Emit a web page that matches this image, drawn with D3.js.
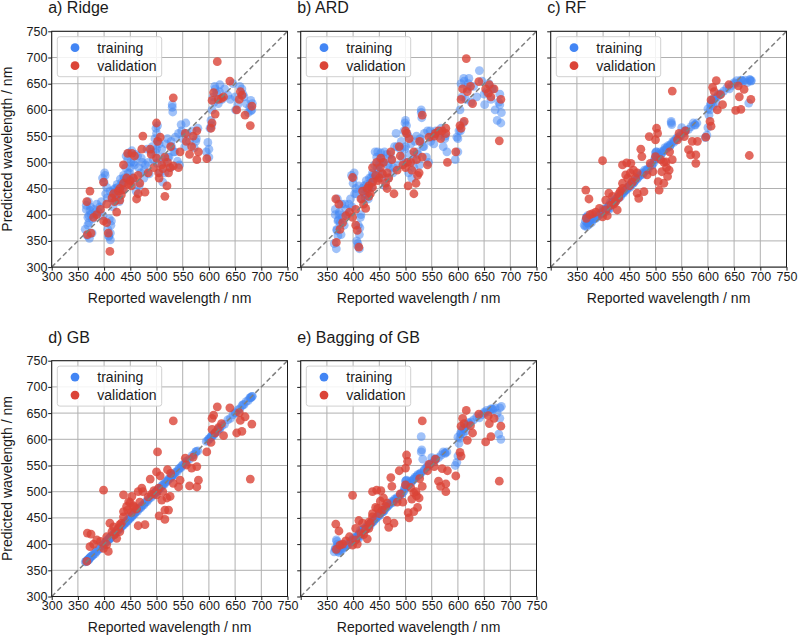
<!DOCTYPE html>
<html>
<head>
<meta charset="utf-8">
<script src="https://cdn.jsdelivr.net/npm/d3@7"></script>
<style>
  body { margin: 0; background: #fff; }
  svg text { font-family: "Liberation Sans", Arial, sans-serif; fill: #1a1a1a; }
</style>
</head>
<body>
<div id="chart"></div>
<script>
const axisTicks = [300, 350, 400, 450, 500, 550, 600, 650, 700, 750]

// reported wavelength of the training set (nm)
const trainReported = [
  364, 366, 368, 369, 370, 371, 372, 373, 375, 378,
  380, 383, 386, 389, 392, 395, 398, 400, 401, 403,
  405, 407, 409, 410, 411, 412, 413, 415, 417, 419,
  421, 423, 425, 427, 429, 431, 433, 435, 437, 439,
  441, 443, 445, 447, 449, 451, 453, 455, 458, 461,
  464, 467, 470, 473, 476, 479, 482, 486, 490, 494,
  497, 499, 500, 501, 503, 506, 509, 512, 515, 518,
  521, 524, 527, 529, 530, 531, 533, 536, 540, 544,
  547, 550, 554, 558, 563, 568, 572, 576, 579, 595,
  598, 600, 602, 604, 606, 608, 610, 612, 615, 618,
  621, 625, 630, 636, 641, 646, 651, 655, 659, 663,
  667, 671, 675, 678, 680, 682, 683,
  366, 369, 371, 374, 377, 384, 397, 402, 406, 409,
  412, 414, 418, 422, 426, 430, 434, 438, 442, 446,
  450, 454, 457, 460, 466, 471, 477, 484, 492, 498,
  500, 502, 505, 510, 516, 522, 528, 530, 535, 542,
  548, 556, 575, 600, 605, 611, 620, 650, 665, 680
]

const trainRidge = [
  372, 418, 360, 395, 425, 385, 355, 408, 400, 392,
  410, 398, 420, 405, 415, 425, 398, 462, 480, 440,
  452, 372, 358, 392, 445, 365, 380, 430, 415, 442,
  450, 428, 458, 440, 425, 468, 455, 448, 475, 462,
  490, 470, 505, 518, 480, 500, 522, 470, 495, 445,
  512, 455, 480, 500, 470, 495, 525, 478, 520, 505,
  545, 565, 525, 498, 540, 480, 510, 462, 500, 535,
  545, 510, 490, 530, 605, 596, 520, 548, 502, 495,
  572, 545, 530, 555, 540, 560, 528, 545, 565, 520,
  538, 510, 565, 580, 600, 625, 615, 640, 632, 612,
  648, 620, 640, 628, 620, 650, 600, 610, 645, 640,
  625, 612, 595, 605, 618, 600, 612,
  410, 380, 398, 415, 365, 405, 470, 475, 432, 360,
  352, 388, 448, 438, 452, 445, 462, 470, 512, 480,
  490, 465, 500, 515, 490, 508, 485, 500, 530, 520,
  555, 570, 535, 525, 480, 510, 540, 610, 520, 555,
  560, 575, 540, 525, 570, 645, 635, 625, 630, 598
]

const trainARD = [
  345, 410, 335, 372, 430, 360, 390, 400, 385, 420,
  395, 380, 410, 400, 420, 430, 415, 460, 470, 440,
  450, 350, 340, 380, 455, 362, 375, 400, 430, 445,
  455, 432, 465, 445, 430, 470, 460, 452, 480, 468,
  495, 475, 510, 520, 485, 505, 518, 480, 500, 455,
  515, 470, 490, 505, 480, 530, 555, 495, 525, 510,
  560, 575, 530, 500, 555, 480, 515, 470, 505, 540,
  550, 515, 495, 540, 600, 585, 530, 555, 510, 500,
  560, 548, 535, 560, 550, 565, 530, 550, 520, 505,
  548, 520, 560, 600, 650, 625, 575, 655, 620, 640,
  660, 615, 645, 625, 675, 655, 610, 635, 650, 620,
  640, 600, 580, 615, 630, 575, 595,
  400, 370, 388, 405, 362, 420, 475, 480, 440, 345,
  335, 395, 450, 440, 458, 450, 470, 475, 520, 490,
  495, 470, 508, 520, 495, 515, 490, 530, 540, 525,
  580, 570, 550, 535, 490, 520, 545, 595, 530, 560,
  540, 555, 545, 545, 560, 660, 650, 630, 640, 610
]

const trainRF = [
  380, 388, 395, 378, 398, 384, 392, 381, 386, 385,
  390, 392, 393, 396, 398, 402, 405, 410, 404, 408,
  406, 410, 412, 416, 409, 418, 413, 418, 421, 423,
  425, 424, 430, 429, 433, 436, 434, 440, 442, 441,
  446, 447, 450, 452, 455, 452, 458, 463, 460, 466,
  468, 472, 474, 480, 477, 485, 484, 486, 493, 495,
  500, 505, 512, 520, 509, 514, 520, 517, 522, 528,
  526, 532, 530, 534, 578, 572, 540, 541, 546, 548,
  552, 566, 556, 560, 563, 568, 575, 571, 575, 547,
  552, 566, 590, 600, 612, 619, 608, 622, 614, 625,
  628, 631, 636, 642, 640, 647, 650, 656, 652, 657,
  655, 657, 652, 613, 658, 655, 656,
  378, 395, 385, 390, 392, 398, 403, 408, 412, 414,
  418, 424, 426, 428, 432, 436, 438, 442, 446, 449,
  454, 458, 460, 463, 470, 476, 480, 487, 494, 505,
  518, 520, 510, 514, 522, 528, 532, 575, 538, 546,
  550, 560, 572, 602, 610, 620, 630, 652, 656, 657
]

const trainGB = [
  366, 367, 369, 370, 371, 370, 373, 374, 376, 378,
  381, 382, 386, 390, 391, 396, 397, 401, 400, 404,
  405, 408, 408, 411, 410, 413, 412, 416, 416, 420,
  420, 424, 424, 428, 428, 432, 432, 436, 436, 440,
  440, 444, 444, 448, 448, 452, 452, 456, 457, 462,
  463, 468, 469, 474, 475, 480, 481, 487, 489, 495,
  496, 500, 499, 502, 502, 507, 508, 513, 514, 519,
  520, 525, 526, 530, 529, 532, 532, 537, 539, 545,
  546, 551, 553, 559, 562, 569, 571, 577, 578, 596,
  597, 601, 601, 605, 605, 609, 609, 613, 614, 619,
  620, 626, 629, 637, 640, 647, 650, 656, 658, 664,
  666, 672, 674, 679, 679, 682, 682,
  367, 370, 372, 375, 378, 385, 398, 403, 407, 410,
  413, 415, 419, 423, 427, 431, 435, 439, 443, 447,
  451, 455, 458, 461, 467, 472, 478, 485, 493, 499,
  501, 503, 506, 511, 517, 523, 529, 531, 536, 543,
  549, 557, 576, 601, 606, 612, 621, 651, 666, 680
]

const trainBagging = [
  385, 392, 408, 390, 400, 386, 396, 384, 388, 388,
  392, 394, 396, 398, 400, 404, 407, 412, 406, 410,
  408, 412, 414, 417, 411, 420, 415, 420, 423, 425,
  427, 426, 431, 431, 435, 437, 436, 442, 443, 443,
  448, 448, 452, 454, 456, 455, 460, 464, 462, 468,
  470, 474, 476, 481, 479, 486, 486, 488, 494, 497,
  501, 506, 513, 521, 510, 515, 520, 519, 523, 528,
  528, 533, 532, 536, 605, 580, 562, 542, 547, 549,
  553, 565, 557, 561, 565, 570, 576, 573, 576, 550,
  556, 568, 592, 602, 610, 618, 610, 620, 616, 626,
  630, 633, 637, 643, 641, 647, 650, 655, 653, 658,
  657, 660, 650, 610, 660, 600, 663,
  390, 405, 395, 396, 398, 400, 406, 410, 414, 416,
  420, 426, 428, 430, 434, 437, 440, 444, 448, 451,
  456, 460, 462, 465, 472, 478, 482, 489, 496, 507,
  520, 522, 512, 516, 524, 530, 534, 576, 540, 548,
  553, 562, 574, 604, 612, 622, 632, 652, 658, 640
]

// reported wavelength of the validation set (nm)
const validReported = [
  367, 368, 373, 375, 380, 386, 393, 399, 399, 405,
  405, 408, 411, 415, 418, 420, 424, 427, 430, 430,
  433, 437, 437, 437, 443, 445, 447, 450, 452, 453,
  456, 458, 462, 465, 465, 468, 472, 474, 478, 484,
  488, 490, 495, 500, 500, 502, 504, 505, 507, 510,
  512, 516, 516, 520, 521, 523, 526, 527, 532, 532,
  542, 545, 555, 557, 563, 567, 570, 577, 577, 580,
  596, 604, 606, 606, 609, 612, 616, 618, 624, 628,
  640, 653, 658, 660, 663, 669, 679, 682
]

const validRidge = [
  425, 362, 445, 365, 395, 400, 410, 388, 462, 385,
  420, 365, 330, 432, 440, 425, 405, 445, 428, 450,
  438, 495, 460, 448, 470, 517, 458, 465, 455, 517,
  470, 512, 430, 440, 475, 460, 525, 550, 443, 480,
  525, 515, 490, 575, 508, 540, 480, 470, 548, 495,
  488, 435, 510, 455, 500, 480, 490, 530, 493, 623,
  490, 520, 555, 540, 515, 530, 550, 560, 505, 520,
  507, 565, 575, 618, 633, 592, 692, 620, 622, 625,
  655, 600, 620, 635, 628, 590, 570, 607
]

const validARD = [
  430, 347, 420, 372, 385, 398, 405, 395, 471, 380,
  410, 370, 338, 430, 445, 420, 412, 450, 435, 455,
  440, 490, 462, 452, 475, 500, 465, 470, 490, 508,
  478, 500, 460, 450, 480, 470, 520, 505, 440, 485,
  530, 512, 495, 560, 490, 555, 500, 455, 545, 500,
  485, 440, 520, 460, 505, 475, 480, 540, 510, 590,
  495, 548, 550, 555, 560, 545, 560, 555, 565, 500,
  520, 570, 565, 620, 640, 578, 698, 635, 645, 612,
  654, 640, 632, 648, 625, 640, 541, 620
]

const validRF = [
  447, 393, 430, 400, 402, 405, 412, 396, 503, 409,
  428, 398, 441, 418, 435, 420, 425, 409, 432, 440,
  445, 495, 460, 450, 476, 499, 470, 455, 480, 498,
  462, 485, 470, 441, 480, 431, 525, 511, 444, 476,
  549, 498, 482, 543, 511, 565, 555, 463, 447, 505,
  482, 460, 500, 501, 490, 473, 485, 520, 505, 636,
  543, 555, 549, 560, 524, 514, 540, 514, 498, 540,
  548, 578, 569, 619, 643, 635, 656, 600, 629, 610,
  648, 599, 646, 625, 601, 639, 513, 620
]

const validGB = [
  367, 421, 395, 419, 400, 408, 405, 392, 503, 414,
  399, 386, 440, 424, 433, 418, 411, 430, 424, 437,
  440, 494, 462, 452, 472, 465, 481, 479, 460, 491,
  473, 470, 467, 500, 435, 480, 507, 500, 437, 490,
  524, 495, 502, 538, 494, 576, 507, 454, 530, 484,
  500, 465, 447, 488, 542, 465, 491, 535, 516, 635,
  509, 522, 564, 551, 511, 545, 566, 548, 509, 522,
  576, 594, 619, 640, 646, 612, 662, 622, 630, 607,
  660, 612, 651, 636, 615, 643, 524, 629
]

const validBagging = [
  438, 390, 425, 398, 400, 406, 414, 398, 493, 408,
  430, 400, 445, 420, 440, 418, 428, 410, 430, 442,
  440, 500, 458, 452, 470, 503, 468, 458, 482, 502,
  465, 488, 472, 445, 478, 432, 527, 510, 440, 480,
  540, 496, 480, 545, 513, 570, 558, 460, 450, 508,
  486, 462, 498, 500, 492, 470, 488, 525, 510, 635,
  540, 552, 548, 562, 520, 510, 544, 515, 500, 540,
  530, 575, 568, 625, 640, 630, 655, 598, 626, 612,
  648, 595, 645, 630, 605, 640, 520, 625
]

const panels = [
  { title: 'a) Ridge', train: trainRidge, valid: validRidge, col: 0, row: 0 },
  { title: 'b) ARD', train: trainARD, valid: validARD, col: 1, row: 0 },
  { title: 'c) RF', train: trainRF, valid: validRF, col: 2, row: 0 },
  { title: 'd) GB', train: trainGB, valid: validGB, col: 0, row: 1 },
  { title: 'e) Bagging of GB', train: trainBagging, valid: validBagging, col: 1, row: 1 }
]

const width = 800
const height = 637
const colLeft = [51.7, 300.7, 550.7]
const rowTop = [31.3, 360.7]
const size = 235.8
const blue = '#4285f4'
const red = '#db4437'

const svg = d3.select('#chart')
  .append('svg')
  .attr('width', width)
  .attr('height', height)
  .attr('viewBox', [0, 0, width, height].join(' '))

const x = d3.scaleLinear().domain([300, 750]).range([0, size])
const y = d3.scaleLinear().domain([300, 750]).range([size, 0])

panels.forEach(p => {
  const g = svg.append('g')
    .attr('transform', `translate(${colLeft[p.col]},${rowTop[p.row]})`)

  // grid
  g.append('g')
    .selectAll('line')
    .data(axisTicks)
    .join('line')
    .attr('x1', d => x(d)).attr('x2', d => x(d))
    .attr('y1', 0).attr('y2', size)
    .attr('stroke', '#b0b0b0').attr('stroke-width', 1)
  g.append('g')
    .selectAll('line')
    .data(axisTicks)
    .join('line')
    .attr('y1', d => y(d)).attr('y2', d => y(d))
    .attr('x1', 0).attr('x2', size)
    .attr('stroke', '#b0b0b0').attr('stroke-width', 1)

  const trainPts = trainReported.map((r, i) => ({ r, p: p.train[i] }))
  const validPts = validReported.map((r, i) => ({ r, p: p.valid[i] }))

  g.append('g')
    .selectAll('circle')
    .data(trainPts)
    .join('circle')
    .attr('cx', d => x(d.r))
    .attr('cy', d => y(d.p))
    .attr('r', 4.4)
    .attr('fill', blue)
    .attr('fill-opacity', 0.5)

  g.append('g')
    .selectAll('circle')
    .data(validPts)
    .join('circle')
    .attr('cx', d => x(d.r))
    .attr('cy', d => y(d.p))
    .attr('r', 4.4)
    .attr('fill', red)
    .attr('fill-opacity', 0.8)

  // y = x reference line
  g.append('line')
    .attr('x1', x(300)).attr('y1', y(300))
    .attr('x2', x(750)).attr('y2', y(750))
    .attr('stroke', '#7f7f7f')
    .attr('stroke-width', 1.5)
    .attr('stroke-dasharray', '5,3')

  // neighbouring panels hide their first x label, as in the figure
  const xFormat = d => (p.col > 0 && d === 300) ? '' : d
  const xAxis = g.append('g')
    .attr('transform', `translate(0,${size})`)
    .call(d3.axisBottom(x).tickValues(axisTicks).tickSize(3.5).tickPadding(1.2).tickSizeOuter(0)
      .tickFormat(xFormat))
  const yAxis = g.append('g')
    .call(d3.axisLeft(y).tickValues(axisTicks).tickSize(3.5).tickPadding(0.8).tickSizeOuter(0)
      .tickFormat(p.col === 0 ? d3.format('d') : () => ''))
  ;[xAxis, yAxis].forEach(a => {
    a.select('.domain').remove()
    a.selectAll('line').attr('stroke', '#1a1a1a')
    a.selectAll('text').style('font-size', '12.5px').attr('fill', '#1a1a1a')
      .style('font-family', '"Liberation Sans", Arial, sans-serif')
  })

  g.append('rect')
    .attr('width', size).attr('height', size)
    .attr('fill', 'none').attr('stroke', '#1a1a1a').attr('stroke-width', 1)

  // legend
  const lg = g.append('g').attr('transform', 'translate(5.6,5.4)')
  lg.append('rect')
    .attr('width', 104.4).attr('height', 40)
    .attr('rx', 2.5)
    .attr('fill', '#fff').attr('fill-opacity', 0.85)
    .attr('stroke', '#d0d0d0')
  ;[['training', blue], ['validation', red]].forEach(([label, c], i) => {
    lg.append('circle')
      .attr('cx', 17.7).attr('cy', 11 + i * 18)
      .attr('r', 4.4).attr('fill', c)
    lg.append('text')
      .attr('x', 40).attr('y', 11 + i * 18).attr('dy', '0.36em')
      .style('font-size', '14px')
      .text(label)
  })

  g.append('text')
    .attr('x', -3.5).attr('y', -18)
    .style('font-size', '16px')
    .text(p.title)

  g.append('text')
    .attr('x', size / 2).attr('y', size + 36)
    .attr('text-anchor', 'middle')
    .style('font-size', '14px')
    .text('Reported wavelength / nm')

  if (p.col === 0) {
    g.append('text')
      .attr('transform', `translate(${-40},${size / 2}) rotate(-90)`)
      .attr('text-anchor', 'middle')
      .style('font-size', '14px')
      .text('Predicted wavelength / nm')
  }
})
</script>
</body>
</html>
